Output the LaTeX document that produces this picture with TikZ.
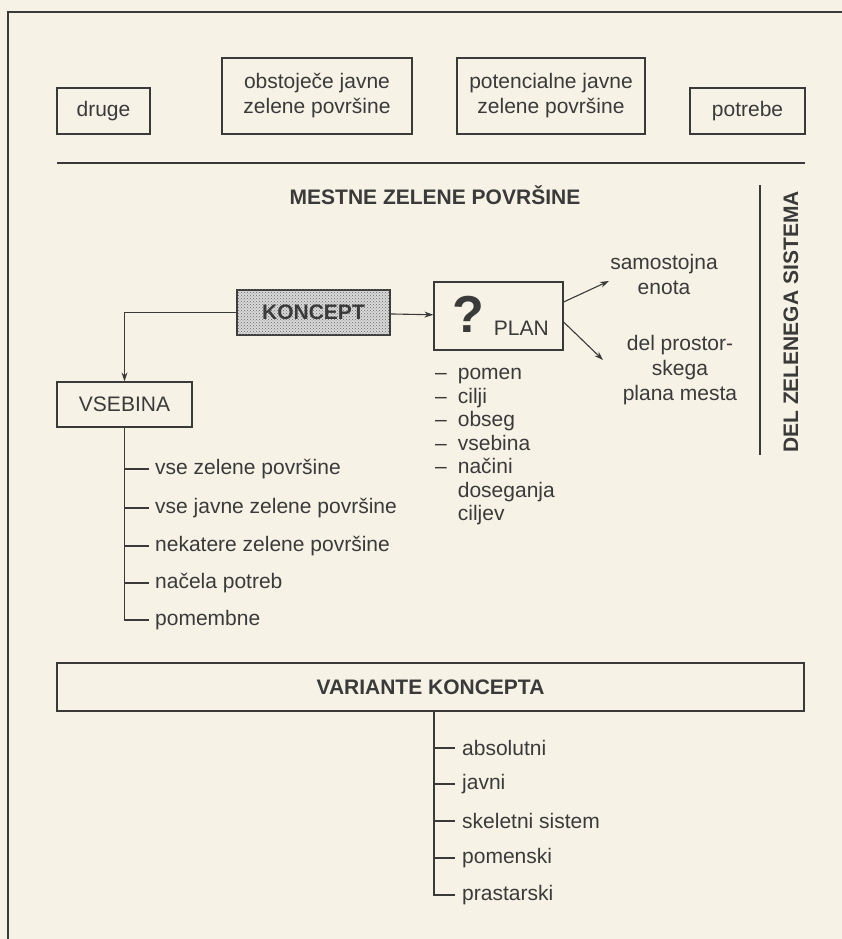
\documentclass[tikz,border=0pt]{standalone}
\usepackage{fontspec}
\setmainfont{Liberation Sans}
\usetikzlibrary{arrows.meta,patterns}
\definecolor{paper}{HTML}{F6F2E6}
\definecolor{ink}{HTML}{3A3A3A}
\begin{document}
\begin{tikzpicture}[x=1pt,y=-1pt,
  every node/.style={text=ink},
  txt/.style={font=\fontsize{21}{25}\selectfont, inner sep=0pt},
  box/.style={draw=ink, line width=1.2pt, align=center, inner sep=0pt,
     font=\fontsize{21}{25}\selectfont},
  item/.style={anchor=west, inner sep=6pt, font=\fontsize{21}{24}\selectfont},
  ln/.style={draw=ink, line width=1.1pt},
  arr/.style={ln, -{Stealth[length=9pt,width=6pt]}}
]
\fill[paper] (0,0) rectangle (842,939);
\useasboundingbox (0,0) rectangle (842,939);
% frame
\draw[ink, line width=2pt] (842,12) -- (8,12) -- (8,939);

% top boxes
\node[box, minimum width=93pt, minimum height=46pt] (druge) at (103.5,111) {druge};
\node[box, minimum width=190pt, minimum height=76pt] (obst) at (317,96) {obstoječe javne\\zelene površine};
\node[box, minimum width=188pt, minimum height=76pt] (pot) at (551,96) {potencialne javne\\zelene površine};
\node[box, minimum width=115pt, minimum height=46pt] (potr) at (747.5,111) {potrebe};
\draw[ink, line width=2pt] (57,163) -- (805,163);

\node[txt, font=\bfseries\fontsize{21}{25}\selectfont] (mest) at (435,195) {MESTNE ZELENE POVRŠINE};

% right side
\draw[ink, line width=1.6pt] (760,185) -- (760,455);
\node[txt, font=\bfseries\fontsize{21}{25}\selectfont, rotate=90] (del) at (791,322) {DEL ZELENEGA SISTEMA};

% koncept, plan, vsebina
\node[box, minimum width=153pt, minimum height=45pt, fill=black!15,
      font=\bfseries\fontsize{21}{25}\selectfont] (konc) at (313.5,312.5) {};
\fill[pattern=crosshatch dots, pattern color=black!60] (konc.south west) rectangle (konc.north east);
\node[txt, font=\bfseries\fontsize{21}{25}\selectfont] (konct) at (konc) {KONCEPT};
\node[box, minimum width=129pt, minimum height=68pt] (plan) at (498.5,316)
   {\hspace{4pt}{\bfseries\fontsize{52}{52}\selectfont ?}\hspace{10pt}\raisebox{-0.15em}{PLAN}};
\node[box, minimum width=135pt, minimum height=45pt] (vseb) at (124.5,404.5) {VSEBINA};
\draw[arr] (konc) -- (plan);
\draw[arr] (konc.west) -| (vseb.north);

\coordinate (p1) at (609,281);
\coordinate (p2) at (603,360);
\draw[arr] ([yshift=14pt]plan.east) -- (p1);
\draw[arr] ([yshift=-6pt]plan.east) -- (p2);
\node[txt, align=center] (sam) at (664,274) {samostojna\\enota};
\node[txt, align=center] (delp) at (680,370) {del prostor-\\skega\\plana mesta};

% vsebina list
\node[item] (v1) at (149,469) {vse zelene površine};
\node[item] (v2) at (149,508) {vse javne zelene površine};
\node[item] (v3) at (149,546) {nekatere zelene površine};
\node[item] (v4) at (149,583) {načela potreb};
\node[item] (v5) at (149,620) {pomembne};
\draw[ln] (vseb.south) -- (vseb.south |- v5.west) -- (v5.west);
\foreach \i in {1,...,4} \draw[ln] (vseb.south |- v\i.west) -- (v\i.west);

% plan list
\node[txt, anchor=north west, align=left, font=\fontsize{21}{23.5}\selectfont] (plist) at (435,368)
  {–\hspace{11pt}pomen\\–\hspace{11pt}cilji\\–\hspace{11pt}obseg\\–\hspace{11pt}vsebina\\–\hspace{11pt}načini\\\phantom{–}\hspace{11pt}doseganja\\\phantom{–}\hspace{11pt}ciljev};

% variante
\node[draw=ink, line width=2.6pt, minimum width=747pt, minimum height=48pt, inner sep=0pt,
      font=\bfseries\fontsize{21}{25}\selectfont] (var) at (430.5,687) {VARIANTE KONCEPTA};
\node[item, inner sep=7pt] (a1) at (455,748) {absolutni};
\node[item, inner sep=7pt] (a2) at (455,784) {javni};
\node[item, inner sep=7pt] (a3) at (455,821) {skeletni sistem};
\node[item, inner sep=7pt] (a4) at (455,858) {pomenski};
\node[item, inner sep=7pt] (a5) at (455,895) {prastarski};
\coordinate (vs) at ([xshift=3.5pt]var.south);
\draw[ln] (vs) -- (vs |- a5.west) -- (a5.west);
\foreach \i in {1,...,4} \draw[ln] (vs |- a\i.west) -- (a\i.west);
\end{tikzpicture}
\end{document}
